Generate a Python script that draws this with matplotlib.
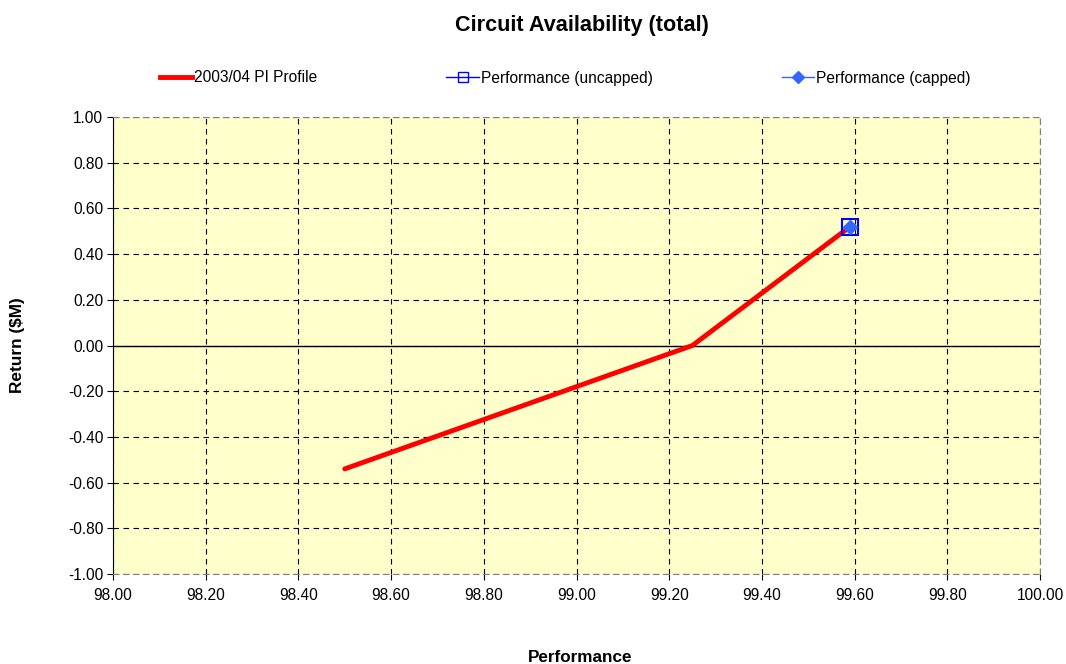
import matplotlib
matplotlib.use("Agg")
import matplotlib.pyplot as plt
from matplotlib.lines import Line2D

profile_x = [98.50, 99.25, 99.59]
profile_y = [-0.54, 0.00, 0.52]
uncapped_x = [99.59]
uncapped_y = [0.52]
capped_x = [99.59]
capped_y = [0.52]

xticks = [98.00, 98.20, 98.40, 98.60, 98.80, 99.00, 99.20, 99.40, 99.60, 99.80, 100.00]
yticks = [-1.00, -0.80, -0.60, -0.40, -0.20, 0.00, 0.20, 0.40, 0.60, 0.80, 1.00]

plt.rcParams['font.family'] = ['Liberation Sans', 'DejaVu Sans']

fig = plt.figure(figsize=(10.66, 6.64), dpi=100)
ax = fig.add_axes([113/1066, 1-574/664, (1040-113)/1066, (574-117)/664])
ax.set_facecolor('#FFFFCC')

ax.set_xlim(98.0, 100.0)
ax.set_ylim(-1.0, 1.0)
ax.set_xticks(xticks)
ax.set_yticks(yticks)
ax.set_xticklabels([f"{v:.2f}" for v in xticks], fontsize=11.2)
ax.set_yticklabels([f"{v:.2f}" for v in yticks], fontsize=11.2)
ax.grid(True, color='black', linestyle=(0, (5, 4)), linewidth=0.8)
ax.axhline(0, color='black', linewidth=1.0, zorder=2)
ax.tick_params(axis='x', direction='out', length=4, width=0.8, colors='black', pad=6)
ax.tick_params(axis='y', direction='out', length=4, width=0.8, colors='black', pad=3)
for s in ['top', 'right', 'bottom']:
    ax.spines[s].set_color('#808080')
    ax.spines[s].set_linestyle((0, (5, 4)))
ax.spines['left'].set_color('black')

ax.plot(profile_x, profile_y, color='#FF0000', linewidth=3.5, solid_capstyle='round', zorder=3)
ax.plot(uncapped_x, uncapped_y, color='#0000FF', marker='s', markersize=11,
        markerfacecolor='none', markeredgewidth=1.5, linestyle='-', linewidth=1, zorder=4)
ax.plot(capped_x, capped_y, color='#3366FF', marker='D', markersize=7,
        linestyle='-', linewidth=1, zorder=5)

fig.text(582/1066, 1-25/664, "Circuit Availability (total)", ha='center', va='center',
         fontsize=15.6, fontweight='bold')
fig.text(580/1066, 1-657/664, "Performance", ha='center', va='center', fontsize=12.3, fontweight='bold')
fig.text(18/1066, 1-345/664, "Return ($M)", ha='center', va='center', rotation=90,
         fontsize=12.4, fontweight='bold')

handles = [
    Line2D([], [], color='#FF0000', linewidth=3.5),
    Line2D([], [], color='#0000FF', marker='s', markersize=7, markerfacecolor='none', linewidth=1),
    Line2D([], [], color='#3366FF', marker='D', markersize=6, linewidth=1),
]
labels = ["2003/04 PI Profile", "Performance (uncapped)", "Performance (capped)"]
fig.legend(handles, labels, loc='center', ncol=3, frameon=False, fontsize=11.2,
           bbox_to_anchor=(565/1066, 1-78/664), columnspacing=8.3, handlelength=2.1,
           handletextpad=0.1)

fig.savefig("out.png", dpi=100)
